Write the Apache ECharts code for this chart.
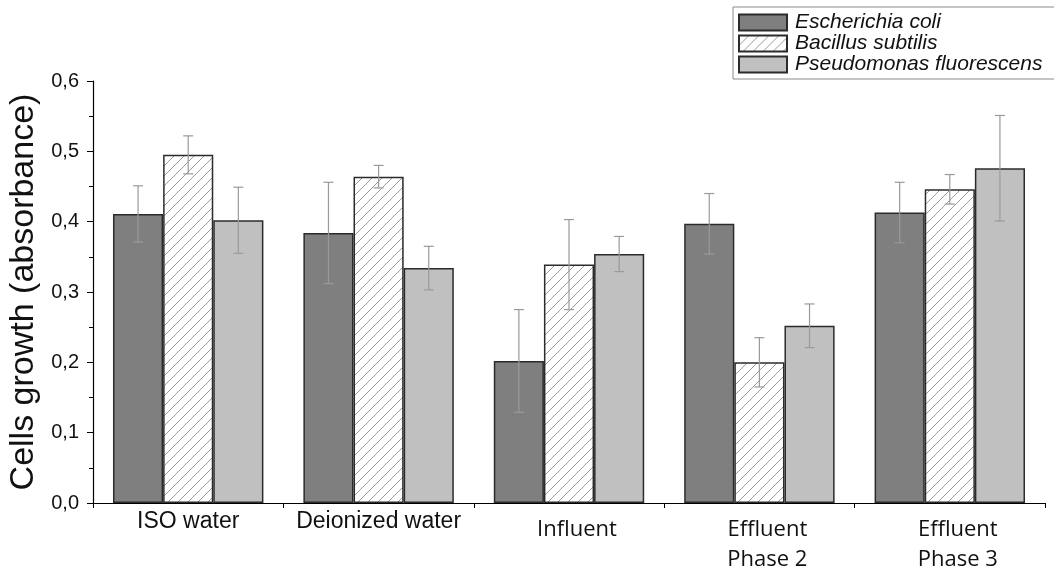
<!DOCTYPE html>
<html>
<head>
<meta charset="utf-8">
<script src="https://cdn.jsdelivr.net/npm/echarts@6/dist/echarts.min.js"></script>
<style>html,body{margin:0;padding:0;background:#fff}#c{width:1054px;height:572px}</style>
</head>
<body>
<div id="c"></div>
<script>
const categories = ['ISO water', 'Deionized water', 'Influent', 'Effluent\nPhase 2', 'Effluent\nPhase 3'];
const seriesNames = ['Escherichia coli', 'Bacillus subtilis', 'Pseudomonas fluorescens'];
const ecoli = [0.411, 0.384, 0.202, 0.397, 0.413];
const ecoliErr = [0.040, 0.072, 0.073, 0.043, 0.043];
const bacillus = [0.495, 0.464, 0.339, 0.200, 0.446];
const bacillusErr = [0.027, 0.016, 0.064, 0.035, 0.021];
const pseudo = [0.402, 0.334, 0.354, 0.252, 0.476];
const pseudoErr = [0.047, 0.031, 0.025, 0.031, 0.075];
const yTicks = ['0,0', '0,1', '0,2', '0,3', '0,4', '0,5', '0,6'];

const CAT_GAP = 0.21;

// hatch pattern
const tile = document.createElement('canvas');
tile.width = 10; tile.height = 10;
const g = tile.getContext('2d');
g.fillStyle = '#ffffff'; g.fillRect(0, 0, 10, 10);
g.strokeStyle = '#9a9a9a'; g.lineWidth = 1;
g.beginPath();
g.moveTo(-1, 11); g.lineTo(11, -1);
g.moveTo(-1, 1); g.lineTo(1, -1);
g.moveTo(9, 11); g.lineTo(11, 9);
g.stroke();
const hatch = { image: tile, repeat: 'repeat' };

const vals = [ecoli, bacillus, pseudo];
const errs = [ecoliErr, bacillusErr, pseudoErr];
const errData = [];
vals.forEach((arr, s) => arr.forEach((v, i) => errData.push([i, v, errs[s][i], s - 1])));

const border = { borderColor: '#2b2b2b', borderWidth: 1.5 };

const chart = echarts.init(document.getElementById('c'), null, { renderer: 'canvas' });
chart.setOption({
  animation: false,
  backgroundColor: '#ffffff',
  grid: { left: 93, right: 9, top: 81, bottom: 69, containLabel: false, outerBoundsMode: 'none' },
  legend: {
    orient: 'vertical',
    left: 733, top: 7,
    padding: [5, 30, 4, 5],
    itemWidth: 48, itemHeight: 16, itemGap: 0,
    icon: 'rect',
    borderColor: '#8a8a8a', borderWidth: 1,
    backgroundColor: '#fff',
    textStyle: { fontFamily: 'Liberation Sans', fontStyle: 'italic', fontSize: 21, lineHeight: 20, color: '#111', padding: [0, 0, 0, 3] },
    data: seriesNames
  },
  xAxis: {
    type: 'category',
    data: categories,
    boundaryGap: true,
    axisLine: { lineStyle: { color: '#000', width: 1.2 } },
    axisTick: { show: true, interval: 0, length: 5, lineStyle: { color: '#000' } },
    axisLabel: {
      interval: 0, margin: 12, color: '#111',
      formatter: (v, i) => i < 2 ? '{a|' + v + '}' : v.split('\n').map(s => '{b|' + s + '}').join('\n'),
      rich: {
        a: { fontFamily: 'Liberation Sans', fontSize: 23, lineHeight: 14, color: '#111' },
        b: { fontFamily: 'Open Sans', fontSize: 22, lineHeight: 30, color: '#111', padding: [0, 0, 0, 16] }
      }
    },
    splitLine: { show: false }
  },
  yAxis: {
    type: 'value',
    min: 0, max: 0.6, interval: 0.1,
    name: 'Cells growth (absorbance)',
    nameLocation: 'middle',
    nameGap: 52,
    nameTextStyle: { fontFamily: 'Liberation Sans', fontSize: 34, color: '#111' },
    axisLine: { show: true, lineStyle: { color: '#000', width: 1.2 } },
    axisTick: { show: true, length: 6, lineStyle: { color: '#000' } },
    minorTick: { show: true, splitNumber: 2, length: 4, lineStyle: { color: '#000' } },
    axisLabel: {
      fontFamily: 'Liberation Sans', fontSize: 20, color: '#111', margin: 14,
      formatter: (v) => yTicks[Math.round(v * 10)]
    },
    splitLine: { show: false }
  },
  series: [
    { name: seriesNames[0], type: 'bar', data: ecoli, barGap: '0%', barCategoryGap: (CAT_GAP * 100) + '%',
      itemStyle: Object.assign({ color: '#7f7f7f' }, border) },
    { name: seriesNames[1], type: 'bar', data: bacillus, barGap: '0%', barCategoryGap: (CAT_GAP * 100) + '%',
      itemStyle: Object.assign({ color: hatch }, border) },
    { name: seriesNames[2], type: 'bar', data: pseudo, barGap: '0%', barCategoryGap: (CAT_GAP * 100) + '%',
      itemStyle: Object.assign({ color: '#c0c0c0' }, border) },
    {
      type: 'custom', z: 10, silent: true,
      data: errData,
      encode: { x: 0, y: 1 },
      renderItem: function (params, api) {
        const ci = api.value(0), v = api.value(1), e = api.value(2), off = api.value(3);
        const cw = api.size([1, 0])[0];
        const bw = cw * (1 - CAT_GAP) / 3;
        const top = api.coord([ci, v + e]);
        const bot = api.coord([ci, v - e]);
        const x = top[0] + off * bw;
        const cap = 5;
        const st = { stroke: '#9a9a9a', lineWidth: 1.2 };
        return {
          type: 'group',
          children: [
            { type: 'line', shape: { x1: x, y1: top[1], x2: x, y2: bot[1] }, style: st },
            { type: 'line', shape: { x1: x - cap, y1: top[1], x2: x + cap, y2: top[1] }, style: st },
            { type: 'line', shape: { x1: x - cap, y1: bot[1], x2: x + cap, y2: bot[1] }, style: st }
          ]
        };
      }
    }
  ]
});
</script>
</body>
</html>
